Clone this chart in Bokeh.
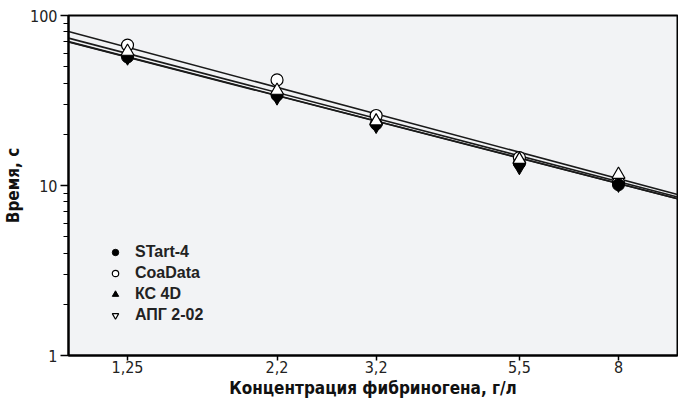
import numpy as np
from bokeh.plotting import figure
from bokeh.models import FixedTicker, Range1d, Legend, LegendItem
from bokeh.embed import file_html
from bokeh.resources import INLINE

# ---- data ----
conc = [1.25, 2.2, 3.2, 5.5, 8]
conc_labels = ["1,25", "2,2", "3,2", "5,5", "8"]
start4 = [57.0, 34.0, 23.0, 13.5, 10.1]
coadata = [67.0, 41.8, 25.8, 14.6, 10.4]
kc4d = [56.0, 32.6, 22.2, 12.7, 10.0]
apg = [61.4, 36.2, 23.9, 14.2, 11.6]
series_names = ["STart-4", "CoaData", "КС 4D", "АПГ 2-02"]
# power-law regression lines  y = a * x^b
fit_a = [70.2, 80.5, 69.8, 73.6]
fit_b = [-0.924, -0.959, -0.922, -0.935]
y_major = [1, 10, 100]
y_minor = [2, 3, 4, 5, 6, 7, 8, 9, 20, 30, 40, 50, 60, 70, 80, 90]
x_lo, x_hi = 1.0, 10.0

TICK_FONT = "'DejaVu Sans Condensed', 'Liberation Sans Narrow', Roboto, sans-serif"
TITLE_FONT = "'DejaVu Sans Condensed', 'Liberation Sans Narrow', Roboto, sans-serif"
NAN = float("nan")

p = figure(width=678, height=404, x_axis_type="log", y_axis_type="log",
           x_range=Range1d(x_lo, x_hi), y_range=Range1d(1, 100),
           output_backend="svg", toolbar_location=None,
           min_border_left=68, min_border_right=1, min_border_top=15, min_border_bottom=49)

p.background_fill_color = "#f2f3f5"
p.border_fill_color = "white"
p.outline_line_color = "black"
p.outline_line_width = 2
p.grid.visible = False

# regression lines
xs_line = np.array([x_lo, x_hi])
for a, b in zip(fit_a, fit_b):
    p.line(xs_line, a * xs_line ** b, line_color="#1a1a1a", line_width=1.6)

# points
p.scatter(conc, coadata, marker="circle", size=12, fill_color="white",
          line_color="black", line_width=1.2)
p.scatter(conc, start4, marker="circle", size=12, fill_color="black",
          line_color="black")
p.scatter(conc, kc4d, marker="inverted_triangle", size=12, fill_color="black",
          line_color="black")
p.scatter(conc, apg, marker="triangle", size=13, fill_color="white",
          line_color="black", line_width=1.2)

# legend glyphs (legend only, nothing drawn in the plot)
r1 = p.scatter([NAN], [NAN], marker="circle", size=10, fill_color="black", line_color="black")
r2 = p.scatter([NAN], [NAN], marker="circle", size=10, fill_color="white", line_color="black", line_width=1.2)
r3 = p.scatter([NAN], [NAN], marker="triangle", size=10, fill_color="black", line_color="black")
r4 = p.scatter([NAN], [NAN], marker="inverted_triangle", size=10, fill_color="white", line_color="black", line_width=1.2)
legend = Legend(items=[LegendItem(label=n, renderers=[r]) for n, r in zip(series_names, [r1, r2, r3, r4])],
                location=(39, 31), background_fill_alpha=0, border_line_color=None,
                label_text_font="'Liberation Sans', Arial, sans-serif", label_text_font_size="16px",
                label_text_font_style="bold", label_text_color="#222222",
                glyph_width=16, glyph_height=16, label_height=18, spacing=3,
                label_standoff=12, padding=4)
p.add_layout(legend)

# axes
p.xaxis.ticker = FixedTicker(ticks=conc, minor_ticks=[])
p.xaxis.major_label_overrides = {c: l for c, l in zip(conc, conc_labels)}
p.yaxis.ticker = FixedTicker(ticks=y_major, minor_ticks=y_minor)
p.yaxis.major_label_overrides = {1: "1", 10: "10", 100: "100"}

for ax in (p.xaxis, p.yaxis):
    ax.axis_line_width = 2
    ax.axis_line_color = "black"
    ax.major_tick_line_color = "black"
    ax.major_tick_line_width = 1.5
    ax.major_tick_in = 0
    ax.minor_tick_in = 0
    ax.major_label_text_font = TICK_FONT
    ax.major_label_text_font_size = "16px"
    ax.major_label_text_color = "#222222"
    ax.axis_label_text_font = TITLE_FONT
    ax.axis_label_text_font_size = "17px"
    ax.axis_label_text_font_style = "bold"
    ax.axis_label_text_color = "#111111"

p.xaxis.major_tick_out = 5
p.xaxis.minor_tick_out = 0
p.xaxis.major_label_standoff = 0
p.xaxis.axis_label = "Концентрация фибриногена, г/л"
p.xaxis.axis_label_standoff = 2

p.yaxis.major_tick_out = 8
p.yaxis.minor_tick_out = 5
p.yaxis.minor_tick_line_color = "black"
p.yaxis.minor_tick_line_width = 1.2
p.yaxis.major_label_standoff = 3
p.yaxis.axis_label = "Время, с"
p.yaxis.axis_label_standoff = 4

open("out.html", "w").write(file_html(p, INLINE))
